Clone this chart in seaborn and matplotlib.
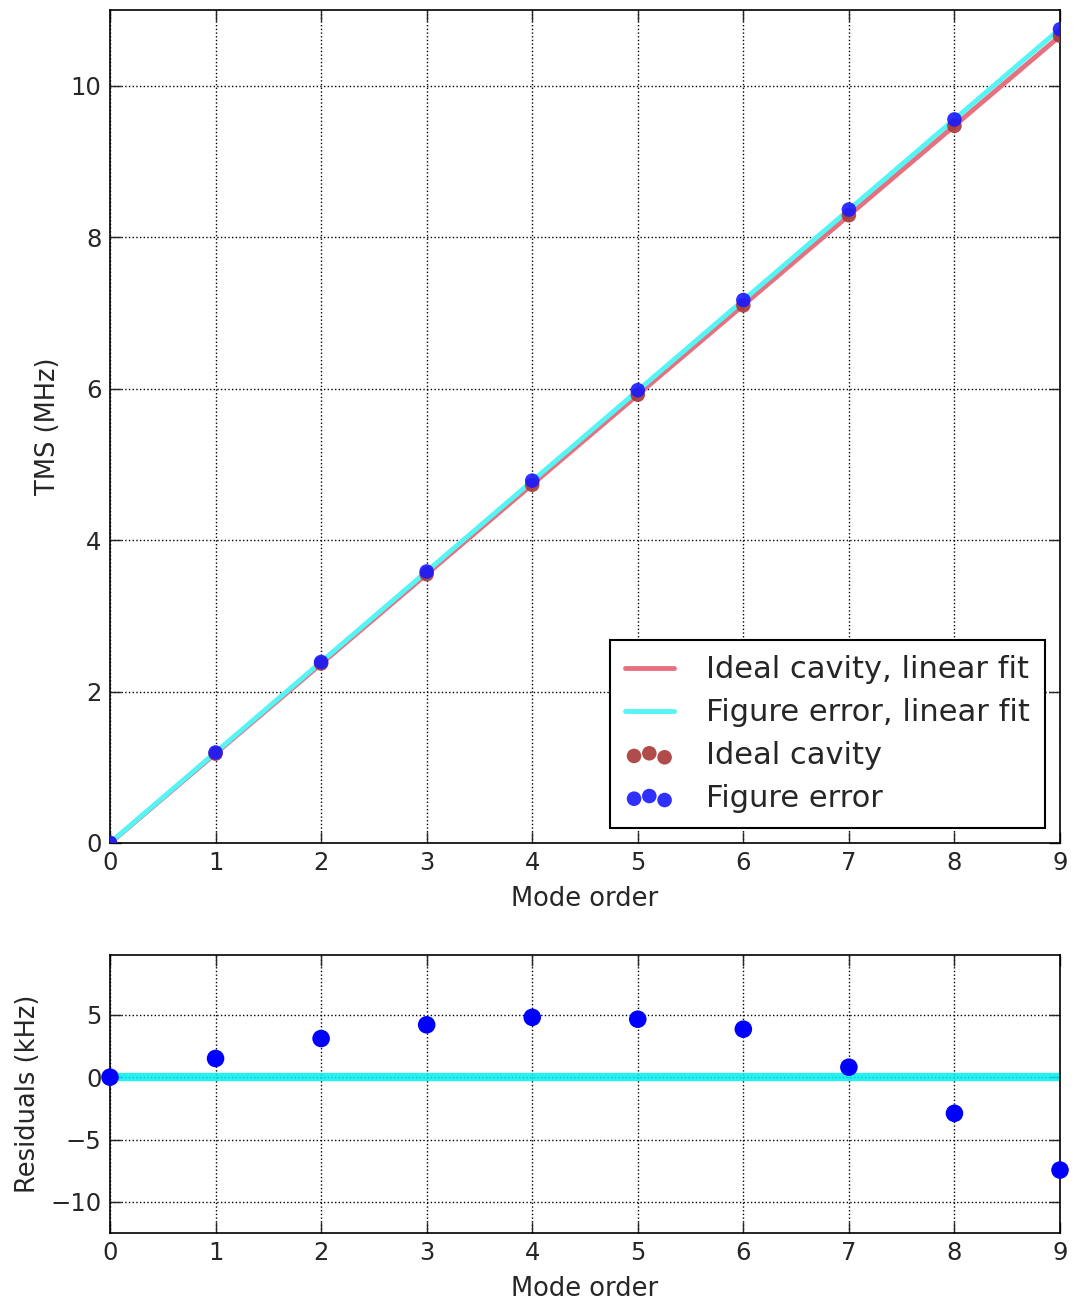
import numpy as np
import pandas as pd
import matplotlib
matplotlib.use("Agg")
import matplotlib.pyplot as plt
import seaborn as sns

mode_order = [0, 1, 2, 3, 4, 5, 6, 7, 8, 9]
ideal_tms = [0.0, 1.18, 2.37, 3.55, 4.73, 5.92, 7.10, 8.29, 9.47, 10.66]
figerr_tms = [0.0, 1.195, 2.39, 3.585, 4.785, 5.98, 7.17, 8.365, 9.555, 10.745]
residuals_khz = [0.0, 1.5, 3.1, 4.2, 4.8, 4.65, 3.85, 0.8, -2.9, -7.45]
top_yticks = [0, 2, 4, 6, 8, 10]
bottom_yticks = [-10, -5, 0, 5]

sns.set_style("white")
plt.rcParams['font.family'] = ['DejaVu Sans']
plt.rcParams.update({
    'xtick.direction': 'in', 'ytick.direction': 'in',
    'xtick.top': True, 'ytick.right': True,
    'xtick.major.size': 8, 'ytick.major.size': 8,
    'xtick.major.width': 1, 'ytick.major.width': 1,
    'xtick.bottom': True, 'ytick.left': True,
    'axes.edgecolor': 'black', 'axes.linewidth': 1.2,
})

df = pd.DataFrame({'mode': mode_order, 'ideal': ideal_tms, 'figerr': figerr_tms,
                   'res': residuals_khz})

fig = plt.figure(figsize=(10.82, 13.02), dpi=100)
ax1 = fig.add_axes([110/1082, 1 - 843/1302, 950/1082, 833/1302])
ax2 = fig.add_axes([110/1082, 1 - 1233/1302, 950/1082, 278/1302])

red_line = '#e8707e'
cyan_line = '#55f5f5'

sns.regplot(data=df, x='mode', y='ideal', ax=ax1, scatter=False, ci=None,
            line_kws=dict(color=red_line, lw=3.5, zorder=2))
sns.regplot(data=df, x='mode', y='figerr', ax=ax1, scatter=False, ci=None,
            line_kws=dict(color=cyan_line, lw=3.5, zorder=2))
ax1.lines[0].set_label('Ideal cavity, linear fit')
ax1.lines[1].set_label('Figure error, linear fit')
sns.scatterplot(data=df, x='mode', y='ideal', ax=ax1, color='#a83838', s=110,
                edgecolor='none', alpha=0.9, label='Ideal cavity', zorder=3)
sns.scatterplot(data=df, x='mode', y='figerr', ax=ax1, color='#1a1aff', s=110,
                edgecolor='none', alpha=0.9, label='Figure error', zorder=4)

ax1.set_xlim(0, 9)
ax1.set_ylim(0, 11)
ax1.set_yticks(top_yticks)
ax1.set_xticks(mode_order)
ax1.grid(True, linestyle=':', color='black', lw=1)
ax1.set_xlabel('Mode order', fontsize=18.5, labelpad=8)
ax1.set_ylabel('TMS (MHz)', fontsize=18.5, labelpad=7)
ax1.tick_params(labelsize=17.5, pad=6)
for s in ax1.spines.values():
    s.set_visible(True)
handles, labels = ax1.get_legend_handles_labels()
leg = ax1.legend(handles, labels, loc='lower right', fontsize=22, scatterpoints=3,
                 frameon=True, fancybox=False, edgecolor='black', framealpha=1,
                 borderpad=0.5, handlelength=1.6, handletextpad=1.05,
                 labelspacing=0.45, borderaxespad=0,
                 bbox_to_anchor=(1 - 15/950, 15/833))
leg.get_frame().set_linewidth(1.5)

sns.lineplot(x=[0, 9], y=[0, 0], ax=ax2, color='#00eeee', lw=6, alpha=0.85, zorder=2)
sns.scatterplot(data=df, x='mode', y='res', ax=ax2, color='#0000ff', s=160,
                edgecolor='none', zorder=3, clip_on=False)
ax2.set_xlim(0, 9)
ax2.set_ylim(-12.5, 9.8)
ax2.set_yticks(bottom_yticks)
ax2.set_xticks(mode_order)
ax2.grid(True, linestyle=':', color='black', lw=1)
ax2.set_xlabel('Mode order', fontsize=18.5, labelpad=8)
ax2.set_ylabel('Residuals (kHz)', fontsize=18.5, labelpad=7)
ax2.tick_params(labelsize=17.5, pad=6)
ax2.yaxis.set_major_formatter(matplotlib.ticker.FuncFormatter(lambda v, p: f'{int(v)}'.replace('-', '\u2212')))
for s in ax2.spines.values():
    s.set_visible(True)

fig.savefig('out.png', dpi=100)
